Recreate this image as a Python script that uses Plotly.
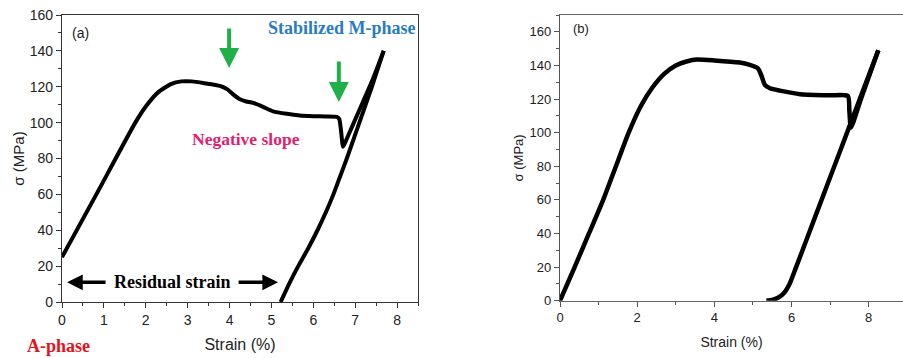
import plotly.graph_objects as go

# ---- Panel (a) data ----
a_load_strain = [0, 0.82, 1.75, 2.0, 2.3, 2.6, 2.85, 3.1, 3.4, 3.77, 3.95, 4.1, 4.25, 4.4, 4.56, 4.8, 5.04, 5.37, 5.68, 6.0, 6.3, 6.56, 6.62, 6.66, 6.71, 6.8, 7.1, 7.4, 7.68]
a_load_stress = [25, 60, 100, 109, 117, 121.5, 123, 123, 122, 120.5, 118.5, 115.5, 113, 111.8, 111, 108.8, 106.3, 104.9, 104, 103.6, 103.4, 103.2, 102, 96, 86.6, 91, 107, 123, 140]
a_unload_strain = [7.68, 7.4, 7.1, 6.8, 6.64, 6.48, 6.3, 6.1, 5.88, 5.64, 5.42, 5.22]
a_unload_stress = [140, 120, 100, 80, 70, 60, 50, 40, 30, 20, 10, 0]

# ---- Panel (b) data ----
b_load_strain = [0, 0.38, 0.75, 1.12, 1.45, 1.78, 2.1, 2.4, 2.7, 3.0, 3.3, 3.55, 4.0, 4.66, 4.9, 5.13, 5.22, 5.31, 5.44, 5.7, 6.22, 7.0, 7.46, 7.5, 7.54, 7.8, 8.25]
b_load_stress = [0, 20, 40, 60, 80, 100, 116, 127, 135, 140, 142.5, 143.5, 143, 141.7, 140.5, 138.3, 134, 128.4, 126.4, 125, 122.9, 122.2, 121.8, 113, 103, 120, 149]
b_unload_strain = [8.25, 7.77, 7.44, 7.11, 6.78, 6.45, 6.12, 5.95, 5.8, 5.65, 5.5, 5.35]
b_unload_stress = [149, 120, 100, 80, 60, 40, 20, 10, 4.5, 1.8, 0.5, 0]

# ---- axis settings ----
a_xrange = [0, 8.5]
a_yrange = [0, 160]
b_xrange = [0, 8.89]
b_yrange = [0, 170]
a_xticks = [0, 1, 2, 3, 4, 5, 6, 7, 8]
a_yticks = [0, 20, 40, 60, 80, 100, 120, 140, 160]
b_xticks = [0, 2, 4, 6, 8]
b_yticks = [0, 20, 40, 60, 80, 100, 120, 140, 160]

fig = go.Figure()
line_a = dict(color="black", width=4, shape="spline", smoothing=0.5)
line_b = dict(color="black", width=4.5, shape="spline", smoothing=0.6)
fig.add_trace(go.Scatter(x=a_load_strain, y=a_load_stress, mode="lines", line=line_a, xaxis="x", yaxis="y", showlegend=False))
fig.add_trace(go.Scatter(x=a_unload_strain, y=a_unload_stress, mode="lines", line=line_a, xaxis="x", yaxis="y", showlegend=False))
fig.add_trace(go.Scatter(x=b_load_strain, y=b_load_stress, mode="lines", line=line_b, xaxis="x2", yaxis="y2", showlegend=False))
fig.add_trace(go.Scatter(x=b_unload_strain, y=b_unload_stress, mode="lines", line=line_b, xaxis="x2", yaxis="y2", showlegend=False))

tickfont = dict(family="Liberation Sans, Arial", size=14, color="#222")
tickfont_b = dict(family="Liberation Sans, Arial", size=13, color="#222")

common = dict(showgrid=False, zeroline=False, ticks="outside", ticklen=5, tickwidth=1, automargin=False)

fig.update_layout(
    width=903, height=358,
    margin=dict(l=0, r=0, t=0, b=0),
    paper_bgcolor="white", plot_bgcolor="white",
    xaxis=dict(domain=[62/903, 418/903], range=a_xrange, tickvals=a_xticks, tickfont=tickfont,
               showline=True, linecolor="#333", linewidth=1.3, mirror=True, tickcolor="#333",
               minor=dict(ticks="outside", ticklen=3, dtick=0.5, tickcolor="#333"),
               title=dict(text="Strain (%)", font=dict(family="Liberation Sans, Arial", size=16, color="#222"), standoff=11),
               anchor="y", **common),
    yaxis=dict(domain=[(358-302)/358, (358-15)/358], range=a_yrange, tickvals=a_yticks, tickfont=tickfont,
               showline=True, linecolor="#333", linewidth=1.3, mirror=True, tickcolor="#333",
               minor=dict(ticks="outside", ticklen=3, dtick=10, tickcolor="#333"),
               title=dict(text="σ (MPa)", font=dict(family="Liberation Sans, Arial", size=15, color="#222"), standoff=1),
               anchor="x", **common),
    xaxis2=dict(domain=[560/903, 1.0], range=b_xrange, tickvals=b_xticks, tickfont=tickfont_b,
                showline=True, linecolor="#666", linewidth=1.3, mirror=True, tickcolor="#555",
                minor=dict(ticks="outside", ticklen=3, dtick=1, tickcolor="#555"),
                title=dict(text="Strain (%)", font=dict(family="Liberation Sans, Arial", size=14, color="#222"), standoff=12),
                anchor="y2", **common),
    yaxis2=dict(domain=[(358-300.7)/358, (358-15)/358], range=b_yrange, tickvals=b_yticks, tickfont=tickfont_b,
                showline=True, linecolor="#555", linewidth=1.3, mirror=False, tickcolor="#555",
                minor=dict(ticks="outside", ticklen=3, dtick=10, tickcolor="#555"),
                title=dict(text="σ (MPa)", font=dict(family="Liberation Sans, Arial", size=13, color="#222"), standoff=2),
                anchor="x2", **common),
)

serif = "Liberation Serif, Times New Roman"
annotations = [
    dict(x=0.45, y=150, xref="x", yref="y", text="(a)", showarrow=False,
         font=dict(family="Liberation Sans, Arial", size=14, color="#222")),
    dict(x=0.55, y=162, xref="x2", yref="y2", text="(b)", showarrow=False,
         font=dict(family="Liberation Sans, Arial", size=13, color="#222")),
    dict(x=6.69, y=153, xref="x", yref="y", text="<b>Stabilized M-phase</b>", showarrow=False,
         font=dict(family=serif, size=18, color="#2b7bbf")),
    dict(x=4.39, y=91, xref="x", yref="y", text="<b>Negative slope</b>", showarrow=False,
         font=dict(family=serif, size=17.5, color="#e3206e")),
    dict(x=2.65, y=11, xref="x", yref="y", text="<b>Residual strain</b>", showarrow=False,
         font=dict(family=serif, size=18, color="black")),
    dict(x=59/903, y=1-345.5/358, xref="paper", yref="paper", xanchor="center", yanchor="middle",
         text="<b>A-phase</b>", showarrow=False,
         font=dict(family=serif, size=18, color="#e8101c")),
    # green arrows
    dict(x=3.99, y=130.5, xref="x", yref="y", ax=0, ay=-41, showarrow=True, text="",
         arrowhead=2, arrowsize=1.0, arrowwidth=4, arrowcolor="#20b04a"),
    dict(x=6.61, y=111.5, xref="x", yref="y", ax=0, ay=-42, showarrow=True, text="",
         arrowhead=2, arrowsize=1.0, arrowwidth=4, arrowcolor="#20b04a"),
    # residual strain arrows
    dict(x=0.12, y=11, xref="x", yref="y", ax=40, ay=0, showarrow=True, text="",
         arrowhead=2, arrowsize=0.9, arrowwidth=3.5, arrowcolor="black"),
    dict(x=5.16, y=11, xref="x", yref="y", ax=-41, ay=0, showarrow=True, text="",
         arrowhead=2, arrowsize=0.9, arrowwidth=3.5, arrowcolor="black"),
]
fig.update_layout(annotations=annotations)

fig.write_html("out.html")
